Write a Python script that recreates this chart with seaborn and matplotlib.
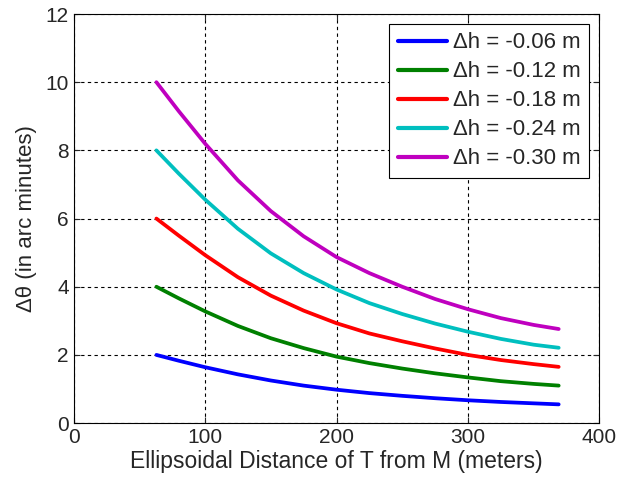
import matplotlib
matplotlib.use("Agg")
import matplotlib.pyplot as plt
import pandas as pd
import numpy as np
import seaborn as sns

# distancia (m) y curvas
distancia = [63, 80, 100, 125, 150, 175, 200, 225, 250, 275, 300, 325, 350, 369]
dh_006 = [2.0, 1.83, 1.64, 1.43, 1.25, 1.1, 0.98, 0.88, 0.8, 0.73, 0.67, 0.62, 0.58, 0.55]
dh_012 = [4.0, 3.66, 3.28, 2.85, 2.49, 2.2, 1.95, 1.76, 1.6, 1.46, 1.34, 1.23, 1.15, 1.1]
dh_018 = [6.0, 5.5, 4.93, 4.28, 3.74, 3.3, 2.93, 2.63, 2.4, 2.19, 2.0, 1.85, 1.73, 1.65]
dh_024 = [8.0, 7.32, 6.56, 5.7, 4.98, 4.4, 3.92, 3.52, 3.2, 2.92, 2.68, 2.47, 2.3, 2.21]
dh_030 = [10.0, 9.15, 8.2, 7.12, 6.22, 5.48, 4.87, 4.4, 4.0, 3.64, 3.34, 3.08, 2.88, 2.76]

etiquetas = ["\u0394h = -0.06 m", "\u0394h = -0.12 m", "\u0394h = -0.18 m",
             "\u0394h = -0.24 m", "\u0394h = -0.30 m"]
colores = ["#0000ff", "#008000", "#ff0000", "#00bfbf", "#bf00bf"]

series = [dh_006, dh_012, dh_018, dh_024, dh_030]
df = pd.concat([pd.DataFrame({"x": distancia, "y": s, "serie": e})
                for s, e in zip(series, etiquetas)], ignore_index=True)

#%% graficar
sns.set_style("ticks")
plt.rcParams["font.family"] = ["Liberation Sans", "DejaVu Sans"]
plt.rcParams["xtick.direction"] = "in"
plt.rcParams["ytick.direction"] = "in"

fig = plt.figure(figsize=(6.29, 4.83), dpi=100)
ax = fig.add_axes([0.117, 0.124, 0.836, 0.847])

sns.lineplot(data=df, x="x", y="y", hue="serie", palette=colores,
             linewidth=2.7, ax=ax)

ax.set_xlim(0, 400)
ax.set_ylim(0, 12)
ax.set_xticks([0, 100, 200, 300, 400])
ax.set_yticks([0, 2, 4, 6, 8, 10, 12])
ax.tick_params(labelsize=15, length=4, width=0.8, top=True, right=True)
ax.grid(True, color="black", linestyle=(0, (3, 3)), linewidth=0.8)
for sp in ax.spines.values():
    sp.set_linewidth(0.8)
    sp.set_color("black")

ax.set_xlabel("Ellipsoidal Distance of T from M (meters)", fontsize=16.5, labelpad=2)
ax.set_ylabel("\u0394\u03b8 (in arc minutes)", fontsize=16, labelpad=6)

leg = ax.legend(loc="upper right", fontsize=16, fancybox=False, framealpha=1,
                edgecolor="black", handlelength=2.2, handletextpad=0.3,
                borderaxespad=0.45, labelspacing=0.36, borderpad=0.38)
leg.get_frame().set_linewidth(0.8)
for l in leg.get_lines():
    l.set_linewidth(3)

fig.savefig("out.png", dpi=100)
